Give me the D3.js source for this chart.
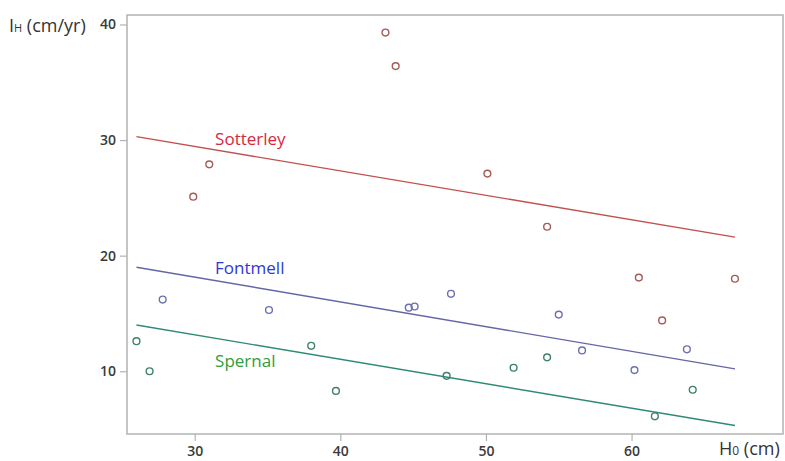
<!DOCTYPE html>
<html>
<head>
<meta charset="utf-8">
<script src="https://cdn.jsdelivr.net/npm/d3@7"></script>
<style>
  body { margin: 0; background: #fff; }
  svg { display: block; font-family: "Open Sans", "Noto Sans", sans-serif; }
</style>
</head>
<body>
<div id="chart"></div>
<script>
// growth rate vs initial height, three sites

const sites = ["Sotterley", "Fontmell", "Spernal"]

const sotterleyH0 = [29.9, 31.0, 43.1, 43.8, 50.1, 54.2, 60.5, 62.1, 67.1]
const sotterleyIH = [25.1, 27.9, 39.3, 36.4, 27.1, 22.5, 18.1, 14.4, 18.0]

const fontmellH0 = [27.8, 35.1, 44.7, 45.1, 47.6, 55.0, 56.6, 60.2, 63.8]
const fontmellIH = [16.2, 15.3, 15.5, 15.6, 16.7, 14.9, 11.8, 10.1, 11.9]

const spernalH0 = [26.0, 26.9, 38.0, 39.7, 47.3, 51.9, 54.2, 61.6, 64.2]
const spernalIH = [12.6, 10.0, 12.2, 8.3, 9.6, 10.3, 11.2, 6.1, 8.4]

// fitted lines (common slope), evaluated at the ends of the H0 range
const fitH0 = [26.0, 67.1]
const sotterleyFit = [30.3, 21.6]
const fontmellFit = [19.0, 10.2]
const spernalFit = [14.0, 5.3]

const xTicks = [30, 40, 50, 60]
const yTicks = [10, 20, 30, 40]

const series = [
    { name: sites[0], h0: sotterleyH0, ih: sotterleyIH, fit: sotterleyFit,
      point: "#a55a58", line: "#c0504d", label: "#d8283a", labelAt: [31.4, 29.6] },
    { name: sites[1], h0: fontmellH0, ih: fontmellIH, fit: fontmellFit,
      point: "#6d70ae", line: "#6466a6", label: "#2f38d4", labelAt: [31.4, 18.4] },
    { name: sites[2], h0: spernalH0, ih: spernalIH, fit: spernalFit,
      point: "#3e7f6e", line: "#2e8a76", label: "#2e9e3c", labelAt: [31.4, 10.4] }
]

const width = 785
const height = 461
const plotLeft = 127, plotRight = 783, plotTop = 15, plotBottom = 434

const svg = d3.select("#chart")
    .append("svg")
    .attr("width", width)
    .attr("height", height)

const x = d3.scaleLinear().domain([25.35, 70.4]).range([plotLeft, plotRight])
const y = d3.scaleLinear().domain([4.57, 40.82]).range([plotBottom, plotTop])

// frame
svg.append("rect")
    .attr("x", plotLeft)
    .attr("y", plotTop)
    .attr("width", plotRight - plotLeft)
    .attr("height", plotBottom - plotTop)
    .attr("fill", "none")
    .attr("stroke", "#b3b3b3")
    .attr("stroke-width", 1.5)

const yAxis = svg.append("g")
    .attr("transform", "translate(" + plotLeft + ",0)")
    .call(d3.axisLeft(y).tickValues(yTicks).tickSize(7).tickPadding(4))
yAxis.select(".domain").remove()

const xAxis = svg.append("g")
    .attr("transform", "translate(0," + plotBottom + ")")
    .call(d3.axisBottom(x).tickValues(xTicks).tickSize(7).tickPadding(5))
xAxis.select(".domain").remove()

svg.selectAll(".tick line").attr("stroke", "#b3b3b3").attr("stroke-width", 1.2)
svg.selectAll(".tick text")
    .attr("fill", "#3a3a3a")
    .style("font-size", "14px")
    .style("font-weight", "600")
    .style("font-family", "'Open Sans', sans-serif")

// axis titles
const yTitle = svg.append("text")
    .attr("x", 9)
    .attr("y", 32)
    .attr("fill", "#333")
    .style("font-size", "18px")
yTitle.append("tspan").text("I")
yTitle.append("tspan").style("font-size", "11px").text("H")
yTitle.append("tspan").text(" (cm/yr)")

const xTitle = svg.append("text")
    .attr("x", 719)
    .attr("y", 455)
    .attr("fill", "#333")
    .style("font-size", "18px")
xTitle.append("tspan").text("H")
xTitle.append("tspan").style("font-size", "12px").text("0")
xTitle.append("tspan").text(" (cm)")

const line = d3.line()
    .x(d => x(d[0]))
    .y(d => y(d[1]))

series.forEach(s => {
    svg.append("path")
        .datum(d3.zip(fitH0, s.fit))
        .attr("d", line)
        .attr("fill", "none")
        .attr("stroke", s.line)
        .attr("stroke-width", 1.4)

    svg.selectAll(null)
        .data(d3.zip(s.h0, s.ih))
        .enter()
        .append("circle")
        .attr("cx", d => x(d[0]))
        .attr("cy", d => y(d[1]))
        .attr("r", 3.4)
        .attr("fill", "none")
        .attr("stroke", s.point)
        .attr("stroke-width", 1.4)

    svg.append("text")
        .attr("x", x(s.labelAt[0]))
        .attr("y", y(s.labelAt[1]))
        .attr("fill", s.label)
        .style("font-size", "17px")
        .text(s.name)
})
</script>
</body>
</html>
